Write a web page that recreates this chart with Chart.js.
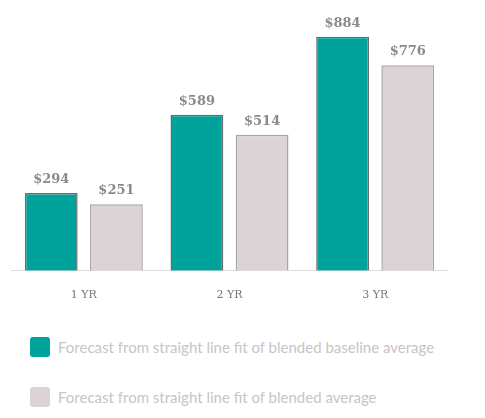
<!DOCTYPE html>
<html><head>
<script src="https://cdn.jsdelivr.net/npm/chart.js@4"></script>
<style>
body{margin:0;background:#fff;font-family:Lato,"Open Sans",sans-serif;}
#wrap{position:absolute;left:0;top:0;width:448px;height:312px;}
.leg{position:absolute;left:30px;display:flex;align-items:center;color:#c9c4c6;font-size:15px;}
.sw{width:20px;height:20px;border-radius:3px;margin-right:8px;}
</style>
</head><body>
<div id="wrap"><canvas id="c"></canvas></div>
<div class="leg" style="top:337px"><div class="sw" style="background:#00a39b"></div>Forecast from straight line fit of blended baseline average</div>
<div class="leg" style="top:387px"><div class="sw" style="background:#dcd3d6"></div>Forecast from straight line fit of blended average</div>
<script>
const categories = ['1 YR', '2 YR', '3 YR'];
const baselineValues = [294, 589, 884];
const blendedValues = [251, 514, 776];

const labelPlugin = {
  id: 'labels',
  afterDatasetsDraw(chart) {
    const ctx = chart.ctx;
    ctx.save();
    ctx.font = 'bold 13px "DejaVu Serif", serif';
    ctx.fillStyle = '#8a8a8a';
    ctx.textAlign = 'center';
    chart.data.datasets.forEach((ds, i) => {
      chart.getDatasetMeta(i).data.forEach((bar, j) => {
        ctx.fillText('$' + ds.data[j], bar.x, bar.y - 10);
      });
    });
    ctx.restore();
  }
};

new Chart(document.getElementById('c'), {
  type: 'bar',
  data: {
    labels: categories,
    datasets: [
      { data: baselineValues, backgroundColor: '#00a39b', borderColor: '#6b6b6b', borderWidth: 1.5 },
      { data: blendedValues, backgroundColor: '#dcd3d6', borderColor: '#a9a5a6', borderWidth: 1.5 }
    ]
  },
  options: {
    responsive: true,
    maintainAspectRatio: false,
    animation: false,
    categoryPercentage: 0.895,
    barPercentage: 0.81,
    layout: { padding: { left: 11, right: 0, top: 6 } },
    plugins: { legend: { display: false }, tooltip: { enabled: false } },
    scales: {
      x: {
        grid: { display: false },
        border: { color: '#dddddd' },
        ticks: { color: '#777', font: { family: '"DejaVu Serif", serif', size: 11 }, padding: 10 }
      },
      y: { display: false, min: 0, max: 1000 }
    }
  },
  plugins: [labelPlugin]
});
</script>
</body></html>
